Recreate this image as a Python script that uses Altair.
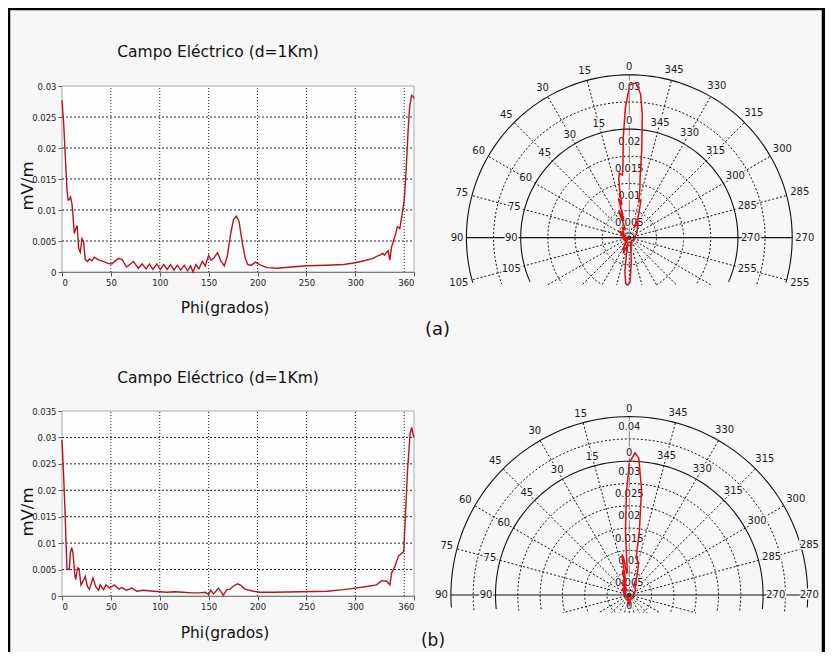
import altair as alt
import pandas as pd

W, H = 817, 644
BG = "#f7f7f7"
FONT = "DejaVu Sans"

# ---------------- data ----------------
phi_a = [0, 1.7, 3.4, 5.1, 6.3, 7.5, 8.7, 10.2, 11.3, 12.6, 14.2, 15.5, 17.0, 18.7, 20.4, 22.0,
         23.8, 26.0, 28.0, 30.6, 33.0, 37.0, 42.0, 47.0, 51.0, 54.5, 58.0, 61.5, 66.0, 70.0,
         73.0, 78.0, 82, 86, 89.5, 93, 97, 100.5, 104, 107.5, 111, 114.5, 118, 121.5, 125,
         128.5, 131.5, 134, 137, 140, 143.5, 146.5, 150, 152.5, 155, 159, 162.5, 166, 169,
         172.5, 175.5, 178.3, 181, 184.5, 187.5, 190, 193.5, 198, 203, 210, 220, 235, 250,
         270, 288, 300, 311, 318, 323, 326, 328, 330, 332, 333.5, 335.3, 337, 339, 341, 343,
         345.5, 348, 350, 352, 354, 355.5, 357.5, 359, 360]
e_a = [0.0277, 0.0240, 0.0186, 0.0132, 0.0116, 0.0117, 0.0121, 0.0110, 0.0090, 0.0062, 0.0070,
       0.0075, 0.0038, 0.0032, 0.0054, 0.0049, 0.0020, 0.0017, 0.0021, 0.0018, 0.0024, 0.0020,
       0.0017, 0.0014, 0.0013, 0.0018, 0.0022, 0.0020, 0.0008, 0.0013, 0.0017, 0.0006, 0.0013,
       0.0005, 0.0013, 0.0004, 0.0013, 0.0004, 0.0012, 0.0004, 0.0012, 0.0003, 0.0011, 0.0003,
       0.0011, 0.0002, 0.0010, 0.0000, 0.0012, 0.0005, 0.0017, 0.0010, 0.0027, 0.0019, 0.0022,
       0.0031, 0.0018, 0.0010, 0.0025, 0.0062, 0.0085, 0.0090, 0.0082, 0.0046, 0.0022, 0.0012,
       0.0011, 0.0016, 0.0011, 0.0007, 0.0006, 0.0008, 0.0010, 0.0011, 0.0012, 0.0015, 0.0019,
       0.0022, 0.0026, 0.0028, 0.0030, 0.0027, 0.0032, 0.0034, 0.0019, 0.0040, 0.0050, 0.0060,
       0.0073, 0.0070, 0.0094, 0.0115, 0.0165, 0.0229, 0.0265, 0.0285, 0.0283, 0.0280]

phi_b = [0, 1.7, 3.4, 5.0, 6.1, 7.5, 8.5, 9.9, 11.2, 13.0, 14.0, 16.0, 17.4, 19.4, 21.5, 23.8,
         26.0, 28.0, 31.7, 34.4, 37.5, 39.0, 42.6, 45.0, 48.7, 53.5, 58, 61, 66, 71.5, 76.6,
         83, 93.6, 100, 107, 115, 124, 133, 141, 146.4, 150, 152, 155, 160, 163.4, 165, 168.5,
         172, 174.7, 179.4, 183, 187, 195.8, 202.6, 216, 243, 271, 288, 300, 311.5, 321.7, 327,
         332, 335.4, 337, 340.5, 344, 347.4, 349.5, 351, 353.4, 356, 357.7, 359.2, 360]
e_b = [0.0295, 0.0226, 0.0144, 0.0053, 0.0051, 0.0050, 0.0081, 0.0092, 0.0081, 0.0043, 0.0031,
       0.0053, 0.0052, 0.0021, 0.0028, 0.0037, 0.0018, 0.0013, 0.0034, 0.0018, 0.0011, 0.0021,
       0.0012, 0.0021, 0.0015, 0.0021, 0.0013, 0.0016, 0.0011, 0.0015, 0.0009, 0.0011, 0.0009,
       0.0008, 0.0007, 0.0008, 0.0007, 0.0006, 0.0006, 0.0007, 0.0003, 0.0011, 0.0004, 0.0015,
       0.0006, 0.0001, 0.0012, 0.0013, 0.0018, 0.0023, 0.0020, 0.0013, 0.0009, 0.0007, 0.0007,
       0.0008, 0.0009, 0.0012, 0.0015, 0.0018, 0.0021, 0.0029, 0.0028, 0.0021, 0.0043, 0.0056,
       0.0075, 0.0081, 0.0084, 0.0144, 0.0238, 0.0307, 0.0319, 0.0304, 0.0300]

x_tick_values = [0, 50, 100, 150, 200, 250, 300, 360]
x_grid_values = [50, 100, 150, 200, 250, 300, 350]
y_ticks_a = [0, 0.005, 0.01, 0.015, 0.02, 0.025, 0.03]
y_ticks_b = [0, 0.005, 0.01, 0.015, 0.02, 0.025, 0.03, 0.035]

polar_angles = [0, 15, 30, 45, 60, 75, 90, 105, 120, 135, 150, 165,
                180, 195, 210, 225, 240, 255, 270, 285, 300, 315, 330, 345]
rings_a_dotted = [0.005, 0.01, 0.015, 0.025]
rings_a_solid = [0.02, 0.03]
radial_a = [0, 0.005, 0.01, 0.015, 0.02, 0.03]
rings_b_dotted = [0.005, 0.01, 0.015, 0.02, 0.025, 0.035]
rings_b_solid = [0.03, 0.04]
radial_b = [0, 0.005, 0.01, 0.015, 0.02, 0.025, 0.03, 0.04]

title_text = "Campo Eléctrico (d=1Km)"
x_title = "Phi(grados)"
y_title = "mV/m"
panel_labels = ["(a)", "(b)"]


# ---------------- cartesian panel ----------------
def cartesian(phi, e, ymax, yticks, y_bottom, y_top):
    xs = alt.Scale(domain=[0, 360], range=[54, 406], nice=False, zero=False)
    ys = alt.Scale(domain=[0, ymax], range=[y_bottom, y_top], nice=False, zero=False)
    xax = alt.Axis(orient="bottom", offset=-(H - y_bottom), values=x_tick_values, grid=False,
                   domainColor="#555", tickColor="#555", tickSize=4, labelFont=FONT,
                   labelFontSize=8.5, labelColor="#222", labelPadding=2, title=None)
    yax = alt.Axis(orient="left", offset=-54, values=yticks, grid=False, format=".3~f",
                   domainColor="#555", tickColor="#555", tickSize=4, labelFont=FONT,
                   labelFontSize=8.5, labelColor="#222", labelPadding=2, title=None)
    frame = alt.Chart(pd.DataFrame({"a": [0], "b": [360], "c": [0], "d": [ymax]})).mark_rect(
        fill="#fdfdfd", stroke="#a8a8a8", strokeWidth=1
    ).encode(x=alt.X("a:Q", scale=xs, axis=xax), x2="b:Q",
             y=alt.Y("c:Q", scale=ys, axis=yax), y2="d:Q")
    vgrid = alt.Chart(pd.DataFrame({"g": x_grid_values, "lo": 0, "hi": ymax})).mark_rule(
        color="#222", strokeDash=[1, 2], strokeWidth=1
    ).encode(x=alt.X("g:Q", scale=xs, axis=xax),
             y=alt.Y("lo:Q", scale=ys, axis=yax), y2="hi:Q")
    hvals = [v for v in yticks if 0 < v < ymax]
    hgrid = alt.Chart(pd.DataFrame({"g": hvals, "lo": 0, "hi": 360})).mark_rule(
        color="#222", strokeDash=[2, 2], strokeWidth=1
    ).encode(y=alt.Y("g:Q", scale=ys, axis=yax),
             x=alt.X("lo:Q", scale=xs, axis=xax), x2="hi:Q")
    line = alt.Chart(pd.DataFrame({"phi": phi, "E": e})).mark_line(
        color="#b3161c", strokeWidth=1.4
    ).encode(
        x=alt.X("phi:Q", scale=xs, axis=xax),
        y=alt.Y("E:Q", scale=ys, axis=yax),
        order="phi:Q",
    )
    return alt.layer(frame, vgrid, hgrid, line)


# ---------------- polar panel ----------------
def polar(phi, e, K, cx, cy, ymin, dotted, solid, radial, rad_off, ext=0.05):
    xs = alt.Scale(domain=[-ext, ext], range=[cx - ext * K, cx + ext * K], nice=False, zero=False)
    ys = alt.Scale(domain=[ymin, ext], range=[cy - ymin * K, cy - ext * K],
                   nice=False, zero=False, clamp=True)
    R = max(solid)
    X = lambda f: alt.X(f, scale=xs, axis=None)
    Y = lambda f: alt.Y(f, scale=ys, axis=None)

    rows = []
    for r in dotted + solid:
        for t in range(-180, 181, 2):
            rows.append({"r": r, "t": t, "solid": 1 if r in solid else 0})
    rings = alt.Chart(pd.DataFrame(rows)).transform_calculate(
        px="-datum.r*sin(datum.t*PI/180)", py="datum.r*cos(datum.t*PI/180)"
    ).transform_filter(f"datum.py >= {ymin}")
    ring_dot = rings.transform_filter("datum.solid == 0").mark_line(
        color="#111", strokeDash=[2, 2], strokeWidth=1
    ).encode(x=X("px:Q"), y=Y("py:Q"), detail="r:N", order="t:Q")
    ring_sol = rings.transform_filter("datum.solid == 1").mark_line(
        color="#111", strokeWidth=1.1
    ).encode(x=X("px:Q"), y=Y("py:Q"), detail="r:N", order="t:Q")

    spk = [a for a in polar_angles if a not in (0, 90, 270)]
    spokes = alt.Chart(pd.DataFrame({"a": spk, "R": R, "o": 0})).transform_calculate(
        s="sin(datum.a*PI/180)", c="cos(datum.a*PI/180)"
    ).transform_calculate(
        re=f"datum.c < 0 ? min(datum.R, {ymin}/datum.c) : datum.R"
    ).transform_calculate(
        ex="-datum.re*datum.s", ey="datum.re*datum.c"
    ).mark_rule(color="#111", strokeDash=[2, 2], strokeWidth=1).encode(
        x=X("o:Q"), y=Y("o:Q"), x2="ex:Q", y2="ey:Q")

    hline = alt.Chart(pd.DataFrame({"a": [-R], "b": [R], "o": [0]})).mark_rule(
        color="#111", strokeWidth=1.2
    ).encode(x=X("a:Q"), x2="b:Q", y=Y("o:Q"))
    vline = alt.Chart(pd.DataFrame({"o": [0], "R": [R]})).mark_rule(
        color="#666", strokeWidth=0.8
    ).encode(x=X("o:Q"), y=Y("o:Q"), y2="R:Q")

    # label centres must keep the text inside the drawing (right edge at W - 6 px)
    xmax_u = (W - 6 - cx) / K
    lab_rows = []
    for rs in solid:
        for a in polar_angles:
            lab_rows.append({"a": a, "rs": rs, "label": str(a)})
    labs = alt.Chart(pd.DataFrame(lab_rows)).transform_calculate(
        s="sin(datum.a*PI/180)", c="cos(datum.a*PI/180)"
    ).transform_calculate(
        rl=f"datum.rs + (3 + 3.2*length(datum.label)*abs(datum.s) + 5*abs(datum.c))/{K}"
    ).transform_calculate(
        lx0="-datum.rl*datum.s", ly="datum.rl*datum.c"
    ).transform_calculate(
        lx=f"min(datum.lx0, {xmax_u} - 3.2*length(datum.label)/{K})"
    ).transform_filter(f"datum.ly >= {ymin}")
    lab_halo = labs.mark_text(font=FONT, fontSize=10, stroke=BG, strokeWidth=3,
                              fill=BG, align="center", baseline="middle").encode(
        x=X("lx:Q"), y=Y("ly:Q"), text="label:N")
    lab_text = labs.mark_text(font=FONT, fontSize=10, color="#1a1a1a",
                              align="center", baseline="middle").encode(
        x=X("lx:Q"), y=Y("ly:Q"), text="label:N")

    rad = alt.Chart(pd.DataFrame({"v": radial, "o": 0})).transform_calculate(
        ry=f"datum.v - {rad_off}/{K}")
    rad_halo = rad.mark_text(font=FONT, fontSize=10, stroke=BG, strokeWidth=3, fill=BG,
                             align="center", baseline="middle").encode(
        x=X("o:Q"), y=Y("ry:Q"), text=alt.Text("v:Q", format=".3~f"))
    rad_text = rad.mark_text(font=FONT, fontSize=10, color="#1a1a1a",
                             align="center", baseline="middle").encode(
        x=X("o:Q"), y=Y("ry:Q"), text=alt.Text("v:Q", format=".3~f"))

    curve = alt.Chart(pd.DataFrame({"phi": phi, "E": e})).transform_calculate(
        px="-datum.E*sin(datum.phi*PI/180)", py="datum.E*cos(datum.phi*PI/180)"
    ).mark_line(color="#e01010", strokeWidth=1.5).encode(
        x=X("px:Q"), y=Y("py:Q"), order="phi:Q")

    return alt.layer(ring_dot, spokes, hline, vline, ring_sol,
                     lab_halo, lab_text, rad_halo, rad_text, curve)


def text_at(txt, x, y, size, angle=0):
    return alt.Chart(pd.DataFrame({"t": [txt]})).mark_text(
        font=FONT, fontSize=size, color="#111", align="center", baseline="middle", angle=angle
    ).encode(x=alt.value(x), y=alt.value(y), text="t:N")


def border(x, x2, y, y2):
    return alt.Chart(pd.DataFrame({"k": [0]})).mark_rule(color="#000", strokeWidth=3.5).encode(
        x=alt.value(x), x2=alt.value(x2), y=alt.value(y), y2=alt.value(y2))


cart_a = cartesian(phi_a, e_a, 0.03, y_ticks_a, 264, 78)
cart_b = cartesian(phi_b, e_b, 0.035, y_ticks_b, 588, 403)
pol_a = polar(phi_a, e_a, 5430, 621.3, 229.7, -0.0087, rings_a_dotted, rings_a_solid, radial_a, 12.5)
pol_b = polar(phi_b, e_b, 4460, 621.3, 587.0, -0.004, rings_b_dotted, rings_b_solid, radial_b, 10.5)

texts = [
    text_at(title_text, 210, 44, 15.5),
    text_at(title_text, 210, 370, 15.5),
    text_at(x_title, 217, 300, 15.5),
    text_at(x_title, 217, 625, 15.5),
    text_at(y_title, 20, 178, 16.5, 270),
    text_at(y_title, 20, 504, 16.5, 270),
    text_at(panel_labels[0], 429.5, 322, 18),
    text_at(panel_labels[1], 425, 633, 17),
]

frame_lines = [
    border(0, W, 0.5, 0.5),
    border(0.5, 0.5, 0, H),
    border(W - 1.5, W - 1.5, 0, H),
]

chart = alt.layer(cart_a, cart_b, pol_a, pol_b, *texts, *frame_lines).resolve_scale(
    x="independent", y="independent"
).properties(
    width=W, height=H, background=BG, padding=0,
    autosize=alt.AutoSizeParams(type="none"),
).configure_view(strokeWidth=0, fill=BG)

chart.save("out.html", embed_options={"renderer": "svg", "actions": False})
